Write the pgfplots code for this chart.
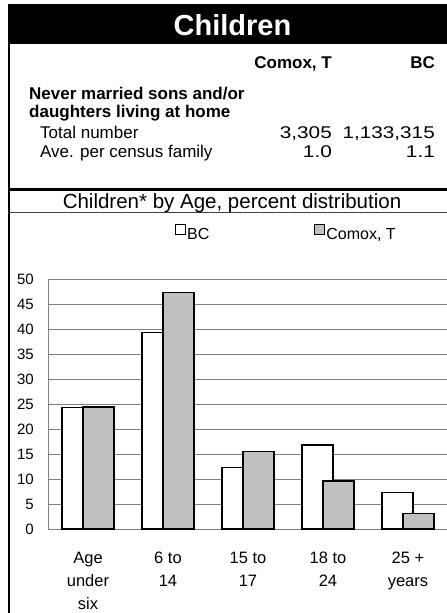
\documentclass[border=0pt]{standalone}
\usepackage{pgfplots}
\pgfplotsset{compat=1.18}
\usepackage{fontspec}
\setmainfont{Liberation Sans}
\usepackage{graphicx}
\definecolor{barg}{HTML}{C0C0C0}
\definecolor{gridg}{HTML}{808080}
\newcommand{\num}[1]{\scalebox{1.22}[1]{#1}}
\begin{document}
\begin{tikzpicture}
\useasboundingbox (0,0) rectangle (447pt,-613pt);
\fill[black] (8pt,-4pt) rectangle (447pt,-44pt);
\draw[line width=2pt] (9pt,-4pt) -- (9pt,-613pt);
\draw[line width=2.3pt] (8pt,-189.5pt) -- (447pt,-189.5pt);
\draw[line width=1pt, color=darkgray] (8pt,-212.5pt) -- (447pt,-212.5pt);
\node[anchor=base, inner sep=0pt, text=white, font=\fontsize{29}{34}\selectfont\bfseries] at (232.5pt,-35pt) {Children};
\begin{scope}[every node/.style={inner sep=0pt, font=\fontsize{17}{20}\selectfont}]
\node[anchor=base east, font=\fontsize{17}{20}\selectfont\bfseries] at (332pt,-68pt) {Comox, T};
\node[anchor=base east, font=\fontsize{17}{20}\selectfont\bfseries] at (435pt,-68pt) {BC};
\node[anchor=base west, font=\fontsize{17}{20}\selectfont\bfseries] at (29pt,-99pt) {Never married sons and/or};
\node[anchor=base west, font=\fontsize{17}{20}\selectfont\bfseries] at (29pt,-117pt) {daughters living at home};
\node[anchor=base west] at (40pt,-138pt) {Total number};
\node[anchor=base west] at (40pt,-157pt) {Ave. per census family};
\node[anchor=base east] at (332pt,-138pt) {\num{3,305}};
\node[anchor=base east] at (435pt,-138pt) {\num{1,133,315}};
\node[anchor=base east] at (332pt,-157pt) {\num{1.0}};
\node[anchor=base east] at (435pt,-157pt) {\num{1.1}};
\end{scope}
\node[anchor=base, inner sep=0pt, font=\fontsize{20.5}{24}\selectfont] at (232pt,-208pt) {Children* by Age, percent distribution};
\begin{axis}[
  at={(48pt,-529pt)}, anchor=south west,
  scale only axis, width=400pt, height=250pt,
  xmin=-0.5, xmax=4.5, ymin=0, ymax=50,
  ytick={0,5,...,50},
  xtick={0,1,2,3,4},
  xticklabels={Age\\under\\six, 6 to\\14, 15 to\\17, 18 to\\24, 25 +\\years},
  /pgf/number format/assume math mode=true,
  major tick length=0pt,
  axis x line*=bottom, axis y line*=left,
  axis line style={draw=gridg, line width=1pt, -},
  ymajorgrids, grid style={draw=gridg, line width=1pt},
  yticklabel style={font=\fontsize{15}{18}\selectfont, anchor=east, inner sep=0pt, xshift=-14pt},
  xticklabel style={font=\fontsize{16.5}{23}\selectfont, align=center, anchor=north, inner sep=0pt, yshift=-23pt},
  legend style={draw=none, fill=none, at={(0.3175,1.184)}, anchor=west, legend columns=2,
    font=\fontsize{16}{19}\selectfont, inner sep=0pt,
    nodes={inner sep=1pt},
    /tikz/every even column/.append style={column sep=104pt}},
  legend cell align=left,
]
\addplot[ybar, bar width=31pt, bar shift=-10.5pt, fill=white, draw=black, line width=1.3pt,
  legend image code/.code={\draw[fill=white, draw=black, line width=1pt] (0pt,0pt) rectangle (10pt,10pt);}]
  coordinates {(0,24.3) (1,39.3) (2,12.3) (3,16.8) (4,7.3)};
\addlegendentry{BC}
\addplot[ybar, bar width=31pt, bar shift=10.5pt, fill=barg, draw=black, line width=1.3pt,
  legend image code/.code={\draw[fill=barg, draw=black, line width=1pt] (0pt,0pt) rectangle (10pt,10pt);}]
  coordinates {(0,24.4) (1,47.3) (2,15.5) (3,9.6) (4,3.1)};
\addlegendentry{Comox, T}
\end{axis}
\end{tikzpicture}
\end{document}
